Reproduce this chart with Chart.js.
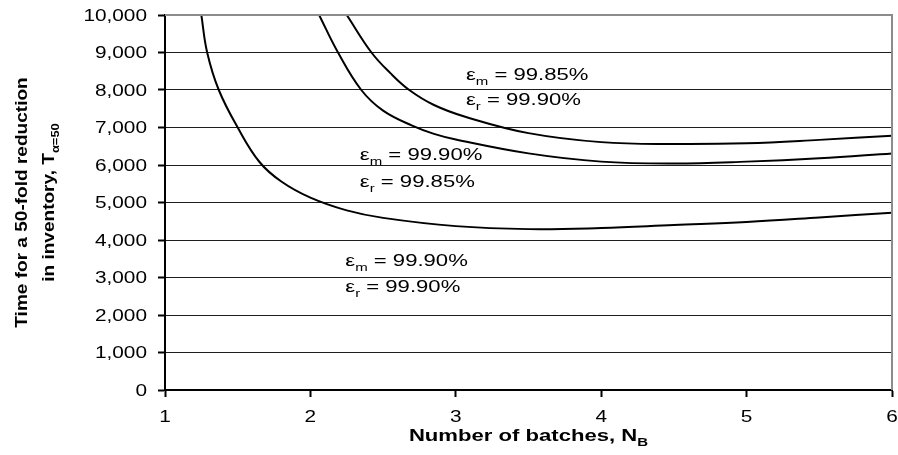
<!DOCTYPE html>
<html>
<head>
<meta charset="utf-8">
<script src="https://cdn.jsdelivr.net/npm/chart.js@4.4.0/dist/chart.umd.min.js"></script>
<style>
  html, body { margin: 0; padding: 0; background: #fff; }
  canvas { display: block; }
</style>
</head>
<body>
<canvas id="chart" width="898" height="455"></canvas>
<script>
// Time for a 50-fold reduction in inventory vs. number of batches,
// one curve per pair of separation efficiencies (eps_m, eps_r).
const batchesA = [1.25, 1.29, 1.37, 1.5, 1.65, 1.8, 2.0, 2.25, 2.5, 3.0, 3.5, 4.0, 4.5, 5.0, 5.5, 6.0];
const timeA    = [10000, 9000, 8000, 7000, 6080, 5560, 5130, 4790, 4590, 4370, 4290, 4320, 4400, 4480, 4600, 4730];

const batchesB = [2.06, 2.19, 2.35, 2.5, 2.7, 2.85, 3.0, 3.5, 4.0, 4.5, 5.0, 5.5, 6.0];
const timeB    = [10000, 9000, 8000, 7450, 7050, 6830, 6680, 6310, 6090, 6040, 6090, 6180, 6310];

const batchesC = [2.25, 2.42, 2.55, 2.68, 2.85, 3.07, 3.5, 4.0, 4.5, 5.0, 5.5, 6.0];
const timeC    = [10000, 9000, 8450, 8000, 7600, 7280, 6850, 6610, 6560, 6580, 6670, 6780];

// Efficiency pair written next to each curve (curve C, curve B, curve A)
const epsM = ['99.85%', '99.90%', '99.90%'];
const epsR = ['99.90%', '99.85%', '99.90%'];

// Axis tick values
const xTickValues = [1, 2, 3, 4, 5, 6];
const yTickValues = [0, 1000, 2000, 3000, 4000, 5000, 6000, 7000, 8000, 9000, 10000];

// Anchor of each efficiency label, in axis units (N_B, T)
const noteAnchors = [
  { n: 3.07, tm: 8270, tr: 7600 },
  { n: 2.34, tm: 6130, tr: 5410 },
  { n: 2.24, tm: 3310, tr: 2610 }
];

const FAMILY = "'Liberation Sans', Arial, Helvetica, sans-serif";
const STRETCH = 1.3;

function pts(xs, ys) { return xs.map((x, i) => ({ x: x, y: ys[i] })); }

// Draws text made of normal and subscript runs, stretched along its direction.
function richText(ctx, parts, x, y, size, bold, align, rot, stretch) {
  const sx = stretch || STRETCH;
  const font = s => (bold ? 'bold ' : '') + s + 'px ' + FAMILY;
  const subSize = size * 0.68;
  let w = 0;
  parts.forEach(p => { ctx.font = font(p.sub ? subSize : size); w += ctx.measureText(p.t).width; });
  const start = align === 'center' ? -w / 2 : (align === 'right' ? -w : 0);
  ctx.save();
  ctx.translate(x, y);
  if (rot) ctx.rotate(rot);
  ctx.scale(sx, 1);
  ctx.fillStyle = '#000';
  ctx.textAlign = 'left';
  ctx.textBaseline = 'alphabetic';
  let cx = start;
  parts.forEach(p => {
    ctx.font = font(p.sub ? subSize : size);
    ctx.fillText(p.t, cx, p.sub ? size * 0.28 : 0);
    cx += ctx.measureText(p.t).width;
  });
  ctx.restore();
}

const textLayer = {
  id: 'textLayer',
  afterDraw(chart) {
    const ctx = chart.ctx;
    const xs = chart.scales.x, ys = chart.scales.y;
    const area = chart.chartArea;

    // plot-area frame on the top and right
    ctx.save();
    ctx.strokeStyle = '#8c8c8c';
    ctx.lineWidth = 2;
    ctx.beginPath();
    ctx.moveTo(area.left, area.top);
    ctx.lineTo(area.right, area.top);
    ctx.lineTo(area.right, area.bottom);
    ctx.stroke();
    ctx.restore();

    // y tick labels
    ys.ticks.forEach(t => {
      const py = ys.getPixelForValue(t.value);
      richText(ctx, [{ t: t.value.toLocaleString('en-US') }], area.left - 18, py + 5.8, 16, false, 'right');
    });
    // x tick labels
    xs.ticks.forEach(t => {
      const px = xs.getPixelForValue(t.value);
      richText(ctx, [{ t: String(t.value) }], px, 422, 16, false, 'center');
    });

    // axis titles
    richText(ctx, [{ t: 'Number of batches, N' }, { t: 'B', sub: true }],
      (area.left + area.right) / 2, 441, 17, true, 'center');
    const cy = (area.top + area.bottom) / 2;
    richText(ctx, [{ t: 'Time for a 50-fold reduction' }], 27, cy, 17, true, 'center', -Math.PI / 2, 1.12);
    richText(ctx, [{ t: 'in inventory, T' }, { t: '\u03B1=50', sub: true }], 54, cy, 17, true, 'center', -Math.PI / 2, 1.12);

    // efficiency labels
    noteAnchors.forEach((a, i) => {
      const px = xs.getPixelForValue(a.n);
      richText(ctx, [{ t: '\u03B5' }, { t: 'm', sub: true }, { t: ' = ' + epsM[i] }],
        px, ys.getPixelForValue(a.tm), 17, false, 'left');
      richText(ctx, [{ t: '\u03B5' }, { t: 'r', sub: true }, { t: ' = ' + epsR[i] }],
        px, ys.getPixelForValue(a.tr), 17, false, 'left');
    });
  }
};

const curveStyle = {
  borderColor: '#000',
  borderWidth: 2,
  pointRadius: 0,
  fill: false,
  tension: 0.4
};

new Chart(document.getElementById('chart'), {
  type: 'line',
  data: {
    datasets: [
      Object.assign({ label: 'eps_m = 99.90%, eps_r = 99.90%', data: pts(batchesA, timeA) }, curveStyle),
      Object.assign({ label: 'eps_m = 99.90%, eps_r = 99.85%', data: pts(batchesB, timeB) }, curveStyle),
      Object.assign({ label: 'eps_m = 99.85%, eps_r = 99.90%', data: pts(batchesC, timeC) }, curveStyle)
    ]
  },
  options: {
    responsive: false,
    animation: false,
    devicePixelRatio: 1,
    layout: { padding: { top: 15, right: 6, left: 0, bottom: 0 } },
    plugins: { legend: { display: false }, tooltip: { enabled: false } },
    scales: {
      x: {
        type: 'linear',
        min: 1, max: 6,
        afterBuildTicks: s => { s.ticks = xTickValues.map(v => ({ value: v })); },
        afterFit: s => { s.height = 65; },
        ticks: { display: false },
        grid: { drawOnChartArea: false, drawTicks: true, tickLength: 7, tickColor: '#000', tickWidth: 2 },
        border: { color: '#000', width: 2 }
      },
      y: {
        type: 'linear',
        min: 0, max: 10000,
        afterBuildTicks: s => { s.ticks = yTickValues.map(v => ({ value: v })); },
        afterFit: s => { s.width = 165; },
        ticks: { display: false },
        grid: { color: '#1e1e1e', lineWidth: 1, drawTicks: true, tickLength: 7, tickColor: '#000', tickWidth: 2 },
        border: { color: '#000', width: 2 }
      }
    }
  },
  plugins: [textLayer]
});
</script>
</body>
</html>
